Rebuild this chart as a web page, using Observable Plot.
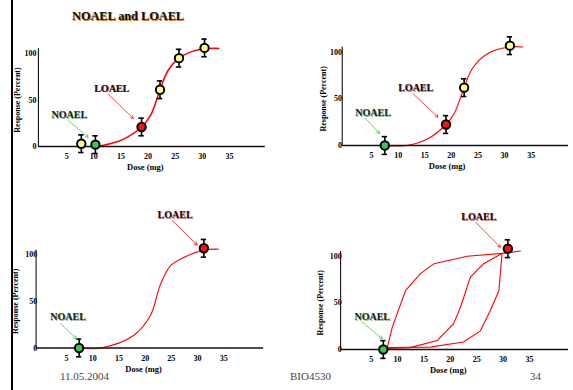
<!DOCTYPE html>
<html><head><meta charset="utf-8">
<script src="https://cdn.jsdelivr.net/npm/d3@7"></script>
<script src="https://cdn.jsdelivr.net/npm/@observablehq/plot@0.6"></script>
<style>
body{margin:0;background:#fff;}
#page{position:relative;width:573px;height:390px;overflow:hidden;background:#fff;font-family:"Liberation Serif","Times New Roman",serif;}
.panel{position:absolute;}
#page svg, #page svg text{font-family:"Liberation Serif","Times New Roman",serif !important;}
#bar{position:absolute;left:11px;top:0;width:2px;height:390px;background:#000;}
#title{position:absolute;left:72px;top:9px;font-weight:bold;font-size:12.3px;text-shadow:1px 1px 0 #d27a1e;color:#111;white-space:nowrap;}
.foot{position:absolute;top:370px;font-size:11px;color:#444;white-space:nowrap;}
</style></head><body>
<div id="page">
  <div id="bar"></div>
  <div id="title">NOAEL and LOAEL</div>
  <div class="foot" style="left:60px">11.05.2004</div>
  <div class="foot" style="left:290px">BIO4530</div>
  <div class="foot" style="left:530px">34</div>
</div>
<script>
// ---- data ----
const xTicks = [5, 10, 15, 20, 25, 30, 35];
const yTicks = [0, 50, 100];
const errHalf = 9.5;

const p1Points = [
  {x: 7.7, y: 3, c: "yellow"}, {x: 10.3, y: 2, c: "green"}, {x: 18.8, y: 21, c: "red"},
  {x: 22.2, y: 61, c: "yellow"}, {x: 25.7, y: 95, c: "yellow"}, {x: 30.4, y: 106, c: "yellow"}
];
const p1Curve = [[10.6,0],[13,3],[15.5,8],[18.8,21],[20.5,34],[22.2,61],[23.7,82],[25.7,95],[28,102],[30.4,105],[33,105.5]];

const p2Points = [
  {x: 7.5, y: 0, c: "green"}, {x: 19.0, y: 22.5, c: "red"},
  {x: 22.4, y: 62, c: "yellow"}, {x: 31.0, y: 107, c: "yellow"}
];
const p2Curve = [[7.5,0],[11.5,0],[15.5,7],[19.0,22.5],[20.5,34],[22.4,62],[23.9,82],[26.7,98],[30.8,105.5],[33.4,105.5]];

const p3Points = [{x: 7.4, y: 0, c: "green"}, {x: 31.2, y: 107, c: "red"}];
const p3Curve = [[7.4,0],[11.5,0],[17.8,13.4],[21.0,34.8],[22.9,68],[24.8,88],[26.8,95.6],[31.2,105],[34,106]];

const p4Points = [{x: 7.3, y: 0, c: "green"}, {x: 30.9, y: 108, c: "red"}];
const p4CurveA = [[8.0,1],[9.0,24],[11.5,63],[14.3,81],[16.9,92],[23.2,100],[29.8,103],[33.3,105.5]];
const p4CurveB = [[8.0,1],[12.4,2],[17.5,9.6],[20.6,27.5],[21.9,45],[23.8,77.5],[26.3,92],[29.8,103]];
const p4CurveC = [[8.0,2],[16.2,2.5],[22.5,8],[25.7,20],[27.6,42],[29.2,63],[29.8,103]];

const fills = {yellow: "#ffff88", green: "#2fcc55", red: "#ff1010"};

// ---- layout per panel ----
const panels = [
  {left: 0, top: 30, width: 290, height: 150, m: [23, 61, 34, 39], xAxis: [-0.2, 41.6], yTop: 105, xTitle: 19.5, ylabDx: -22,
   points: p1Points, curves: [p1Curve], curve: "catmull-rom", lw: 1.5,
   noael: {x: 5.5, y: 34, a: [5.3, 28, 9.0, 9.7]}, loael: {x: 13.3, y: 62.4, a: [12.7, 56, 17.3, 30]}},
  {left: 290, top: 30, width: 283, height: 150, m: [21.7, 42.3, 35, 54.4], xAxis: [-0.5, 42], yTop: 105.4, xTitle: 19.2, ylabDx: -21,
   points: p2Points, curves: [p2Curve], curve: "catmull-rom", lw: 1.1,
   noael: {x: 5.3, y: 34.6, a: [3.9, 29, 6.5, 12.9]}, loael: {x: 13.3, y: 61.8, a: [12.7, 56, 17.5, 30.3]}},
  {left: 0, top: 195, width: 290, height: 180, m: [59.3, 66.7, 27.5, 39.8], xAxis: [-0.8, 42.6], yTop: 105, xTitle: 19.7, ylabDx: -25,
   points: p3Points, curves: [p3Curve], curve: "catmull-rom", lw: 1.1,
   noael: {x: 5.3, y: 33.8, a: [3.9, 26, 6.9, 9.9]}, loael: {x: 25.7, y: 142.8, a: [25.2, 136.7, 29.9, 110.6]}},
  {left: 290, top: 195, width: 283, height: 180, m: [60.7, 44, 26, 54.3], xAxis: [-0.8, 42.4], yTop: 105, xTitle: 19.6, ylabDx: -24,
   points: p4Points, curves: [p4CurveA, p4CurveB, p4CurveC], curve: "linear", lw: 1.1,
   noael: {x: 5.2, y: 34.6, a: [3.3, 29.3, 7.1, 11.5]}, loael: {x: 25.4, y: 142.5, a: [24.8, 136.4, 29.5, 109.6]}}
];

function label(obj, text, fill, shadow) {
  const d = [{x: obj.x, y: obj.y, t: text}];
  const opts = {x: "x", y: "y", text: "t", fontSize: 10, fontWeight: "bold"};
  return [
    Plot.text(d, {...opts, fill: shadow, dx: 0.8, dy: 0.8}),
    Plot.text(d, {...opts, fill})
  ];
}
function arrow(a, stroke, dash) {
  return Plot.arrow([{x1: a[0], y1: a[1], x2: a[2], y2: a[3]}],
    {x1: "x1", y1: "y1", x2: "x2", y2: "y2", stroke, strokeWidth: 0.9, headLength: 5, strokeDasharray: dash});
}

const page = document.getElementById("page");
for (const p of panels) {
  const [mt, mr, mb, ml] = p.m;
  const chart = Plot.plot({
    width: p.width, height: p.height,
    marginTop: mt, marginRight: mr, marginBottom: mb, marginLeft: ml,
    x: {domain: [0, 35]},
    y: {domain: [0, 100]},
    color: {type: "identity"},
    style: {fontWeight: "bold", fontSize: "8px", background: "transparent", overflow: "visible", color: "#000"},
    marks: [
      Plot.axisX({ticks: xTicks, tickSize: 0, tickPadding: 7, label: null}),
      Plot.axisY({ticks: yTicks, tickSize: 0, tickPadding: 3, label: null}),
      Plot.text([{x: p.xTitle, y: 0, t: "Dose (mg)"}], {x: "x", y: "y", text: "t", dy: 21, fontSize: 8.5, fontWeight: "bold"}),
      Plot.text([{y: 50, t: "Response (Percent)"}], {frameAnchor: "left", y: "y", text: "t", rotate: -90, dx: p.ylabDx, textAnchor: "middle", fontSize: 8, fontWeight: "bold"}),
      ...p.curves.map(c => Plot.line(c, {x: d => d[0], y: d => d[1], stroke: "#ff0000", strokeWidth: p.lw, curve: p.curve})),
      Plot.ruleY([0], {x1: p.xAxis[0], x2: p.xAxis[1], stroke: "#111", strokeWidth: 1.3}),
      Plot.ruleX([p.xAxis[0]], {y1: 0, y2: p.yTop, stroke: "#111", strokeWidth: 1.1}),
      Plot.ruleX(p.points, {x: "x", y1: d => d.y - errHalf, y2: d => d.y + errHalf, stroke: "#000", strokeWidth: 1.6}),
      Plot.ruleY(p.points, {y: d => d.y + errHalf, x1: d => d.x - 0.5, x2: d => d.x + 0.5, stroke: "#000", strokeWidth: 1.6}),
      Plot.ruleY(p.points, {y: d => d.y - errHalf, x1: d => d.x - 0.5, x2: d => d.x + 0.5, stroke: "#000", strokeWidth: 1.6}),
      Plot.dot(p.points, {x: "x", y: "y", r: 4.2, fill: d => fills[d.c], stroke: "#000", strokeWidth: 2}),
      arrow(p.noael.a, "#33cc44", "1.5,1.2"),
      arrow(p.loael.a, "#ff3333", null),
      ...label(p.noael, "NOAEL", "#0f2a16", "#8fa898"),
      ...label(p.loael, "LOAEL", "#2a0505", "#b07070")
    ]
  });
  chart.classList.add("panel");
  chart.style.left = p.left + "px";
  chart.style.top = p.top + "px";
  page.appendChild(chart);
}
</script>
</body></html>
